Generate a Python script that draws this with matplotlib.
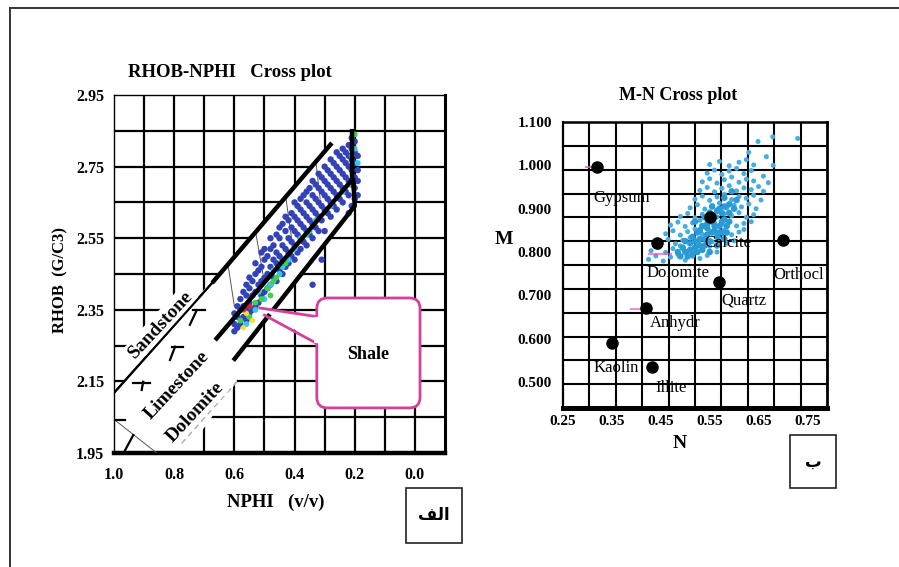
import matplotlib
matplotlib.use("Agg")
import matplotlib.pyplot as plt
from matplotlib.patches import FancyBboxPatch, Polygon, Rectangle
from matplotlib.lines import Line2D

plt.rcParams['font.family'] = ['Liberation Serif', 'DejaVu Sans']

# ---------------- LEFT CHART DATA (RHOB-NPHI) ----------------
nphi_tick_values = [1.0, 0.8, 0.6, 0.4, 0.2, 0.0]
nphi_tick_labels = ['1.0', '0.8', '0.6', '0.4', '0.2', '0.0']
rhob_tick_values = [1.95, 2.15, 2.35, 2.55, 2.75, 2.95]
rhob_tick_labels = ['1.95', '2.15', '2.35', '2.55', '2.75', '2.95']

blue_nphi = [0.60, 0.60, 0.60, 0.59, 0.59, 0.59, 0.58, 0.58, 0.58, 0.57, 0.57, 0.57,
             0.56, 0.56, 0.56, 0.56, 0.55, 0.55, 0.55, 0.55, 0.54, 0.54, 0.54,
             0.53, 0.53, 0.53, 0.53, 0.52, 0.52, 0.52, 0.51, 0.51, 0.51, 0.51,
             0.50, 0.50, 0.50, 0.50, 0.49, 0.49, 0.49, 0.48, 0.48, 0.48, 0.48,
             0.47, 0.47, 0.47, 0.46, 0.46, 0.46, 0.46, 0.45, 0.45, 0.45, 0.45,
             0.44, 0.44, 0.44, 0.44, 0.43, 0.43, 0.43, 0.43, 0.42, 0.42, 0.42, 0.42,
             0.41, 0.41, 0.41, 0.41, 0.40, 0.40, 0.40, 0.40, 0.40, 0.39, 0.39, 0.39, 0.39,
             0.38, 0.38, 0.38, 0.38, 0.38, 0.37, 0.37, 0.37, 0.37,
             0.36, 0.36, 0.36, 0.36, 0.36, 0.35, 0.35, 0.35, 0.35,
             0.34, 0.34, 0.34, 0.34, 0.34, 0.33, 0.33, 0.33, 0.33,
             0.32, 0.32, 0.32, 0.32, 0.32, 0.31, 0.31, 0.31, 0.31,
             0.30, 0.30, 0.30, 0.30, 0.30, 0.29, 0.29, 0.29, 0.29,
             0.28, 0.28, 0.28, 0.28, 0.28, 0.27, 0.27, 0.27, 0.27,
             0.26, 0.26, 0.26, 0.26, 0.26, 0.25, 0.25, 0.25, 0.25,
             0.24, 0.24, 0.24, 0.24, 0.24, 0.23, 0.23, 0.23, 0.23,
             0.22, 0.22, 0.22, 0.22, 0.22, 0.22, 0.21, 0.21, 0.21, 0.21, 0.21, 0.21,
             0.20, 0.20, 0.20, 0.20, 0.20, 0.20, 0.19, 0.19, 0.19, 0.19,
             0.34, 0.31]
blue_rhob = [2.29, 2.31, 2.34, 2.30, 2.33, 2.36, 2.31, 2.35, 2.38, 2.33, 2.36, 2.40,
             2.32, 2.35, 2.39, 2.42, 2.34, 2.37, 2.41, 2.44, 2.35, 2.39, 2.43,
             2.36, 2.40, 2.45, 2.48, 2.37, 2.42, 2.46, 2.39, 2.43, 2.47, 2.51,
             2.40, 2.44, 2.49, 2.52, 2.41, 2.45, 2.50, 2.42, 2.47, 2.52, 2.55,
             2.44, 2.49, 2.53, 2.43, 2.48, 2.51, 2.56, 2.46, 2.50, 2.55, 2.58,
             2.45, 2.49, 2.53, 2.59, 2.47, 2.52, 2.57, 2.61, 2.48, 2.51, 2.55, 2.60,
             2.50, 2.54, 2.58, 2.62, 2.49, 2.53, 2.57, 2.61, 2.65, 2.51, 2.56, 2.60, 2.64,
             2.52, 2.55, 2.59, 2.63, 2.66, 2.54, 2.58, 2.62, 2.67,
             2.53, 2.57, 2.61, 2.65, 2.68, 2.56, 2.60, 2.64, 2.69,
             2.55, 2.59, 2.63, 2.67, 2.71, 2.58, 2.62, 2.66, 2.70,
             2.57, 2.61, 2.65, 2.69, 2.73, 2.60, 2.64, 2.68, 2.72,
             2.57, 2.63, 2.67, 2.71, 2.75, 2.62, 2.66, 2.70, 2.74,
             2.61, 2.65, 2.69, 2.73, 2.77, 2.64, 2.68, 2.72, 2.76,
             2.63, 2.67, 2.71, 2.75, 2.79, 2.66, 2.70, 2.74, 2.78,
             2.65, 2.69, 2.73, 2.77, 2.80, 2.68, 2.72, 2.76, 2.79,
             2.62, 2.67, 2.71, 2.75, 2.78, 2.81, 2.64, 2.70, 2.74, 2.77, 2.80, 2.83,
             2.66, 2.69, 2.72, 2.76, 2.79, 2.82, 2.67, 2.71, 2.74, 2.78,
             2.42, 2.49]
cyan_nphi = [0.56, 0.53, 0.50, 0.48, 0.45, 0.42, 0.38, 0.35, 0.20, 0.21, 0.52, 0.47,
             0.19, 0.44, 0.40, 0.36, 0.33, 0.28, 0.24, 0.22]
cyan_rhob = [2.31, 2.35, 2.38, 2.42, 2.45, 2.49, 2.55, 2.57, 2.80, 2.78, 2.40, 2.46,
             2.76, 2.47, 2.52, 2.56, 2.60, 2.64, 2.68, 2.70]
green_nphi = [0.55, 0.53, 0.51, 0.49, 0.47, 0.46, 0.20, 0.48, 0.58, 0.43]
green_rhob = [2.33, 2.37, 2.38, 2.41, 2.43, 2.44, 2.84, 2.39, 2.32, 2.48]
yellow_nphi = [0.56, 0.54, 0.57]
yellow_rhob = [2.34, 2.32, 2.30]
red_nphi = [0.57, 0.55]
red_rhob = [2.35, 2.36]

sandstone_thin_nphi = [1.0, 0.674]
sandstone_thin_rhob = [2.118, 2.425]
sandstone_nphi = [0.674, 0.276]
sandstone_rhob = [2.425, 2.816]
limestone_nphi = [0.659, 0.209, 0.209]
limestone_rhob = [2.270, 2.713, 2.849]
dolomite_nphi = [0.599, 0.200, 0.205]
dolomite_rhob = [2.213, 2.640, 2.713]

# ---------------- RIGHT CHART DATA (M-N) ----------------
n_tick_values = [0.25, 0.35, 0.45, 0.55, 0.65, 0.75]
n_tick_labels = ['0.25', '0.35', '0.45', '0.55', '0.65', '0.75']
m_tick_values = [0.5, 0.6, 0.7, 0.8, 0.9, 1.0, 1.1]
m_tick_labels = ['0.500', '0.600', '0.700', '0.800', '0.900', '1.000', '1.100']

minerals = ['Gypsum', 'Calcite', 'Dolomite', 'Orthocl', 'Quartz', 'Anhydr', 'Kaolin', 'Illite']
mineral_n = [0.319, 0.551, 0.442, 0.701, 0.569, 0.419, 0.351, 0.433]
mineral_m = [0.997, 0.881, 0.820, 0.827, 0.731, 0.670, 0.589, 0.535]

cloud_n = [0.425, 0.440, 0.455, 0.470, 0.485, 0.500, 0.515, 0.530, 0.545,
           0.430, 0.445, 0.460, 0.475, 0.490, 0.505, 0.520, 0.535, 0.550, 0.565,
           0.450, 0.465, 0.480, 0.495, 0.510, 0.525, 0.540, 0.555, 0.570, 0.585, 0.600,
           0.460, 0.475, 0.490, 0.505, 0.520, 0.535, 0.550, 0.565, 0.580, 0.595, 0.610, 0.620,
           0.470, 0.485, 0.500, 0.515, 0.530, 0.545, 0.560, 0.575, 0.590, 0.605, 0.620, 0.635,
           0.490, 0.505, 0.520, 0.535, 0.550, 0.565, 0.580, 0.595, 0.610, 0.625, 0.640,
           0.510, 0.525, 0.540, 0.555, 0.570, 0.585, 0.600, 0.615, 0.630, 0.645,
           0.520, 0.535, 0.550, 0.565, 0.580, 0.595, 0.610, 0.625, 0.640, 0.655,
           0.530, 0.545, 0.560, 0.575, 0.590, 0.605, 0.620, 0.635, 0.650, 0.660,
           0.535, 0.550, 0.565, 0.580, 0.595, 0.610, 0.625, 0.640,
           0.545, 0.560, 0.575, 0.590, 0.605, 0.620, 0.635,
           0.550, 0.570, 0.590, 0.610, 0.625, 0.640,
           0.630, 0.649, 0.666, 0.679, 0.730, 0.680, 0.660, 0.670]
cloud_m = [0.783, 0.791, 0.779, 0.788, 0.794, 0.781, 0.790, 0.785, 0.792,
           0.803, 0.810, 0.799, 0.808, 0.814, 0.801, 0.809, 0.806, 0.813, 0.800,
           0.822, 0.829, 0.819, 0.827, 0.833, 0.821, 0.828, 0.824, 0.831, 0.820, 0.826,
           0.842, 0.849, 0.839, 0.847, 0.853, 0.841, 0.848, 0.844, 0.851, 0.840, 0.846, 0.852,
           0.862, 0.869, 0.859, 0.867, 0.873, 0.861, 0.868, 0.864, 0.871, 0.860, 0.866, 0.870,
           0.882, 0.889, 0.879, 0.887, 0.893, 0.881, 0.888, 0.884, 0.891, 0.880, 0.886,
           0.902, 0.909, 0.899, 0.907, 0.913, 0.901, 0.908, 0.904, 0.911, 0.900,
           0.922, 0.929, 0.919, 0.927, 0.933, 0.921, 0.928, 0.924, 0.931, 0.920,
           0.942, 0.949, 0.939, 0.947, 0.953, 0.941, 0.948, 0.944, 0.951, 0.940,
           0.962, 0.969, 0.959, 0.967, 0.973, 0.961, 0.968, 0.964,
           0.982, 0.989, 0.979, 0.987, 0.993, 0.981, 0.988,
           1.002, 1.009, 0.999, 1.007, 1.013, 1.001,
           1.030, 1.055, 1.020, 1.066, 1.062, 1.000, 0.975, 0.960]
core_n = [0.500, 0.510, 0.520, 0.530, 0.540, 0.545, 0.550, 0.560, 0.565, 0.570, 0.575, 0.580,
          0.525, 0.535, 0.555, 0.585, 0.590, 0.570, 0.600, 0.510, 0.495, 0.485, 0.515, 0.530,
          0.545, 0.560, 0.575, 0.590, 0.605, 0.520, 0.540, 0.555, 0.580, 0.595,
          0.505, 0.515, 0.525, 0.535, 0.550, 0.565, 0.580, 0.490, 0.500, 0.520, 0.540,
          0.555, 0.570, 0.585, 0.530, 0.545, 0.560, 0.575, 0.590, 0.550, 0.565, 0.580]
core_m = [0.800, 0.820, 0.810, 0.830, 0.815, 0.840, 0.825, 0.850, 0.835, 0.860, 0.845, 0.875,
          0.845, 0.860, 0.870, 0.860, 0.890, 0.900, 0.900, 0.805, 0.810, 0.800, 0.835, 0.815,
          0.855, 0.880, 0.890, 0.910, 0.920, 0.870, 0.880, 0.905, 0.925, 0.940,
          0.790, 0.795, 0.800, 0.805, 0.800, 0.815, 0.830, 0.790, 0.825, 0.825, 0.830,
          0.845, 0.845, 0.845, 0.850, 0.865, 0.860, 0.870, 0.870, 0.890, 0.895, 0.905]

# ---------------- FIGURE ----------------
W, H = 899, 567
fig = plt.figure(figsize=(W / 100, H / 100), dpi=100)
fig.patch.set_facecolor('white')


def fig_rect(x0, y0, x1, y1):
    return [x0 / W, 1 - y1 / H, (x1 - x0) / W, (y1 - y0) / H]


# outer frame
fig.add_artist(Line2D([10 / W, 1.0], [1 - 8 / H, 1 - 8 / H], color='#333333', lw=1.4))
fig.add_artist(Line2D([10 / W, 10 / W], [0.0, 1 - 8 / H], color='#333333', lw=1.4))

# ======================= LEFT AXES =======================
axL = fig.add_axes(fig_rect(114, 95, 445, 453))
axL.set_xlim(1.0, -0.1)
axL.set_ylim(1.95, 2.95)
for k in range(1, 11):
    axL.axvline(1.0 - 0.1 * k, color='black', lw=1.6, zorder=1)
for k in range(1, 10):
    axL.axhline(1.95 + 0.1 * k, color='black', lw=1.6, zorder=1)
axL.spines['left'].set_linewidth(1.0)
axL.spines['top'].set_linewidth(1.0)
axL.spines['right'].set_linewidth(2.2)
axL.spines['bottom'].set_linewidth(3.2)
axL.set_xticks(nphi_tick_values)
axL.set_xticklabels(nphi_tick_labels)
axL.set_yticks(rhob_tick_values)
axL.set_yticklabels(rhob_tick_labels)
axL.tick_params(axis='both', length=0, labelsize=11.5)
axL.tick_params(axis='x', pad=10)
axL.tick_params(axis='y', pad=7)
for lab in axL.get_xticklabels() + axL.get_yticklabels():
    lab.set_fontweight('bold')

# white band (lithology band + label band)
band = Polygon([(1.0, 2.118), (0.276, 2.816), (0.209, 2.849), (0.199, 2.640),
                (0.592, 2.215), (0.592, 2.149), (0.760, 1.95), (1.0, 1.95)],
               closed=True, facecolor='white', edgecolor='none', zorder=2)
axL.add_patch(band)

# faint internal chart lines
thin_lines = [((0.33, 2.77), (0.315, 2.66)), ((0.43, 2.67), (0.41, 2.55)),
              ((0.53, 2.57), (0.505, 2.45)), ((0.62, 2.47), (0.60, 2.36)),
              ((0.997, 2.042), (0.858, 1.95))]
for (a, b) in thin_lines:
    axL.plot([a[0], b[0]], [a[1], b[1]], color='#555555', lw=0.7, zorder=3)
axL.plot([0.775, 0.592], [1.977, 2.149], color='#aaaaaa', lw=1.0, ls=(0, (4, 3)), zorder=3)

# short black ticks inside the label band
band_ticks = [((0.748, 2.308), (0.725, 2.349)), ((0.737, 2.349), (0.698, 2.349)),
              ((0.814, 2.210), (0.797, 2.247)), ((0.808, 2.247), (0.770, 2.247)),
              ((0.908, 2.126), (0.903, 2.149)), ((0.936, 2.145), (0.880, 2.145)),
              ((0.963, 1.958), (0.936, 2.000)), ((0.997, 2.042), (0.963, 2.042))]
for (a, b) in band_ticks:
    axL.plot([a[0], b[0]], [a[1], b[1]], color='black', lw=1.6, zorder=3)

# scatter
axL.scatter(blue_nphi, blue_rhob, s=21, color='#3442b8', edgecolors='none', zorder=4)
axL.scatter(cyan_nphi, cyan_rhob, s=18, color='#33c8e8', edgecolors='none', zorder=4)
axL.scatter(green_nphi, green_rhob, s=18, color='#3fcf4a', edgecolors='none', zorder=4)
axL.scatter(yellow_nphi, yellow_rhob, s=15, color='#f2e030', edgecolors='none', zorder=4)
axL.scatter(red_nphi, red_rhob, s=15, color='#e02020', edgecolors='none', zorder=4)

# lithology lines
axL.plot(sandstone_thin_nphi, sandstone_thin_rhob, color='black', lw=1.6, zorder=5)
axL.plot(sandstone_nphi, sandstone_rhob, color='black', lw=3.2, zorder=5,
         solid_capstyle='butt')
axL.plot(limestone_nphi, limestone_rhob, color='black', lw=3.2, zorder=5)
axL.plot(dolomite_nphi, dolomite_rhob, color='black', lw=3.2, zorder=5)

# lithology labels
txt_kw = dict(fontsize=14, fontweight='bold', rotation=47, ha='center', va='center',
              rotation_mode='anchor', zorder=6)
axL.text(0.845, 2.31, 'Sandstone',
         bbox=dict(facecolor='white', edgecolor='none', pad=1.5), **txt_kw)
axL.text(0.792, 2.14, 'Limestone',
         bbox=dict(facecolor='white', edgecolor='none', pad=1.0), **txt_kw)
axL.text(0.731, 2.064, 'Dolomite',
         bbox=dict(facecolor='white', edgecolor='none', pad=1.0), **txt_kw)
axL.plot(sandstone_thin_nphi, sandstone_thin_rhob, color='black', lw=1.4, zorder=7)

# Shale callout
pink = '#d4409e'
pointer = Polygon([(0.515, 2.355), (0.326, 2.331), (0.326, 2.256)], closed=True,
                  facecolor='white', edgecolor='none', zorder=7)
axL.add_patch(pointer)
axL.plot([0.515, 0.326], [2.355, 2.331], color=pink, lw=2.0, zorder=8)
axL.plot([0.50, 0.326], [2.335, 2.256], color=pink, lw=2.0, zorder=8)
box = FancyBboxPatch((-0.017, 2.076), 0.343, 0.307,
                     boxstyle='round,pad=0,rounding_size=0.035', mutation_aspect=0.84,
                     facecolor='white', edgecolor=pink, lw=2.0, zorder=8)
axL.add_patch(box)
axL.add_patch(Polygon([(0.335, 2.329), (0.318, 2.331), (0.318, 2.256), (0.335, 2.258)],
                      closed=True, facecolor='white', edgecolor='none', zorder=9))
axL.text(0.155, 2.225, 'Shale', fontsize=13, fontweight='bold', ha='center', va='center',
         zorder=10)

fig.text(230 / W, 1 - 73 / H, 'RHOB-NPHI   Cross plot', fontsize=13.5, fontweight='bold',
         ha='center', va='center')
fig.text(276 / W, 1 - 502 / H, 'NPHI   (v/v)', fontsize=13.5, fontweight='bold',
         ha='center', va='center')
fig.text(60 / W, 1 - 280 / H, 'RHOB  (G/C3)', fontsize=12, fontweight='bold',
         ha='center', va='center', rotation=90)

# ======================= RIGHT AXES =======================
axR = fig.add_axes(fig_rect(563, 122, 827, 408))
axR.set_xlim(0.25, 0.79)
axR.set_ylim(0.44, 1.10)
for k in range(1, 10):
    axR.axvline(0.25 + 0.054 * k, color='black', lw=1.5, zorder=1)
for k in range(1, 12):
    axR.axhline(0.44 + 0.055 * k, color='black', lw=1.5, zorder=1)
axR.spines['left'].set_linewidth(1.6)
axR.spines['top'].set_linewidth(1.8)
axR.spines['right'].set_linewidth(2.0)
axR.spines['bottom'].set_linewidth(3.6)
axR.set_xticks(n_tick_values)
axR.set_xticklabels(n_tick_labels)
axR.set_yticks(m_tick_values)
axR.set_yticklabels(m_tick_labels)
axR.tick_params(axis='both', length=0, labelsize=11)
axR.tick_params(axis='x', pad=5)
axR.tick_params(axis='y', pad=8)
for lab in axR.get_xticklabels() + axR.get_yticklabels():
    lab.set_fontweight('bold')

axR.scatter(cloud_n, cloud_m, s=13, color='#45ade0', edgecolors='none', zorder=3)
axR.scatter(core_n, core_m, s=22, color='#2a9ad6', edgecolors='none', zorder=3)

# small magenta marks
axR.plot([0.298, 0.315], [0.997, 0.997], color='#e060c0', lw=1.5, alpha=0.8, zorder=3)
axR.plot([0.425, 0.47], [0.795, 0.795], color='#e060c0', lw=1.5, alpha=0.7, zorder=3)
axR.plot([0.39, 0.425], [0.668, 0.668], color='#e060c0', lw=1.5, alpha=0.7, zorder=3)

axR.plot(mineral_n, mineral_m, 'o', color='black', ms=8, zorder=5)
label_offsets = [(-2.4, -22.8), (-3.9, -19.0), (-7.4, -21.5), (-7.0, -24.9),
                 (1.8, -13.1), (3.2, -10.9), (-13.8, -18.0), (1.8, -15.6)]
for name, xv, yv, off in zip(minerals, mineral_n, mineral_m, label_offsets):
    axR.annotate(name, (xv, yv), xytext=off, textcoords='offset points', fontsize=12,
                 ha='left', va='center', zorder=6, annotation_clip=False)

fig.text(678 / W, 1 - 95 / H, 'M-N Cross plot', fontsize=13, fontweight='bold',
         ha='center', va='center')
fig.text(680 / W, 1 - 443 / H, 'N', fontsize=14, fontweight='bold', ha='center', va='center')
fig.text(504 / W, 1 - 240 / H, 'M', fontsize=14, fontweight='bold', ha='center', va='center')

# ======================= label boxes =======================
fig.add_artist(Rectangle((406 / W, 1 - 543 / H), 56 / W, 55 / H, transform=fig.transFigure,
                         facecolor='white', edgecolor='#222222', lw=1.2))
fig.text(434 / W, 1 - 515 / H, '\uFED2\uFEDF\uFE8D', fontsize=12, fontweight='bold',
         family=['DejaVu Sans'], ha='center', va='center')
fig.add_artist(Rectangle((790 / W, 1 - 488 / H), 46 / W, 53 / H, transform=fig.transFigure,
                         facecolor='white', edgecolor='#222222', lw=1.2))
fig.text(813 / W, 1 - 462 / H, '\u0628', fontsize=12, fontweight='bold',
         family=['DejaVu Sans'], ha='center', va='center')

fig.savefig('out.png', dpi=100)
